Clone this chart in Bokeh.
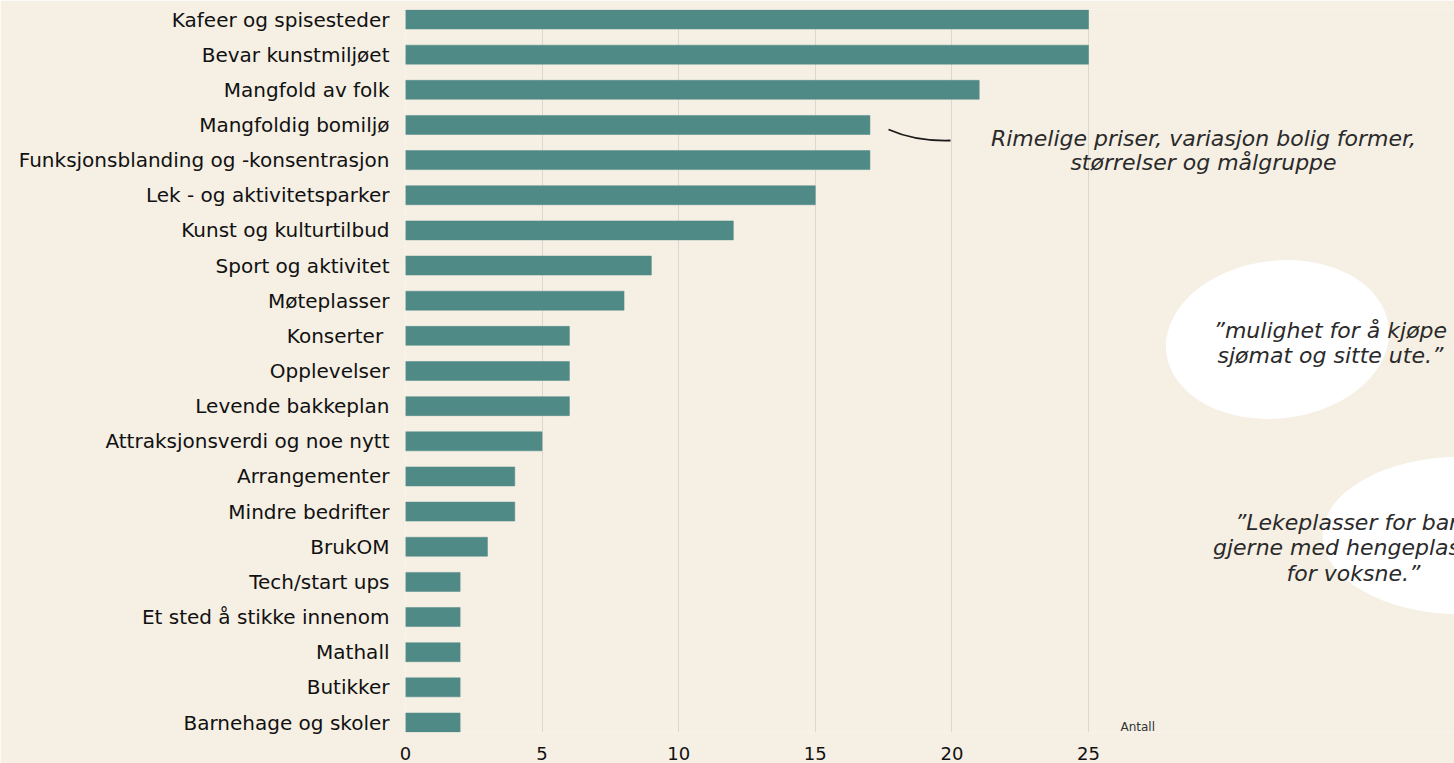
from bokeh.plotting import figure
from bokeh.models import Range1d, FixedTicker, Label, ColumnDataSource
from bokeh.embed import file_html
from bokeh.resources import INLINE
from bokeh.core.properties import value

categories = [
    "Kafeer og spisesteder", "Bevar kunstmiljøet", "Mangfold av folk",
    "Mangfoldig bomiljø", "Funksjonsblanding og -konsentrasjon",
    "Lek - og aktivitetsparker", "Kunst og kulturtilbud", "Sport og aktivitet",
    "Møteplasser", "Konserter ", "Opplevelser", "Levende bakkeplan",
    "Attraksjonsverdi og noe nytt", "Arrangementer", "Mindre bedrifter",
    "BrukOM", "Tech/start ups", "Et sted å stikke innenom", "Mathall",
    "Butikker", "Barnehage og skoler",
]
counts = [25, 25, 21, 17, 17, 15, 12, 9, 8, 6, 6, 6, 5, 4, 4, 3, 2, 2, 2, 2, 2]
x_ticks = [0, 5, 10, 15, 20, 25]
x_axis_title = "Antall"

quote_main = ["Rimelige priser, variasjon bolig former,", "størrelser og målgruppe"]
quote_two = ["”mulighet for å kjøpe", "sjømat og sitte ute.”"]
quote_three = ["”Lekeplasser for barn", "gjerne med hengeplasser", "for voksne.”"]

BG = "#F5EFE4"
BAR = "#508A86"
FONT = "DejaVu Sans"

W, H = 1454, 763
LEFT = 405
TOP = 9
BOTTOM_Y = 732
px_x = 27.32
px_y = 35.15
x_end = (W - LEFT) / px_x
pad = 10 / px_y


def dx(px):
    return (px - LEFT) / px_x


def dy(py):
    return (py - 19) / px_y


p = figure(width=W, height=H, output_backend="svg", toolbar_location=None,
           x_range=Range1d(0, x_end), y_range=Range1d(20 + pad, -pad),
           min_border_left=LEFT, min_border_right=0, min_border_top=TOP,
           min_border_bottom=H - BOTTOM_Y, background_fill_color=BG,
           border_fill_color=BG, outline_line_color=None)

# decorative white blobs
p.ellipse(x=[dx(1277)], y=[dy(339)], width=224, height=158,
          width_units="screen", height_units="screen", angle=0.12,
          fill_color="white", line_color=None)
p.ellipse(x=[dx(1462)], y=[dy(535)], width=280, height=158,
          width_units="screen", height_units="screen", angle=0.0,
          fill_color="white", line_color=None)

ys = list(range(len(categories)))
src = ColumnDataSource(dict(y=ys, v=counts, name=categories))
p.hbar(y="y", right="v", left=0, height=0.54, source=src,
       fill_color=BAR, line_color=BAR, line_width=0.5)

# axes
p.xaxis.ticker = FixedTicker(ticks=x_ticks)
p.xaxis.axis_line_color = None
p.xaxis.major_tick_line_color = None
p.xaxis.minor_tick_line_color = None
p.xaxis.major_label_text_font = FONT
p.xaxis.major_label_text_font_size = "18px"
p.xaxis.major_label_text_color = "#111111"
p.xaxis.major_label_standoff = 8

p.yaxis.ticker = FixedTicker(ticks=ys)
p.yaxis.major_label_overrides = {i: c for i, c in enumerate(categories)}
p.yaxis.axis_line_color = None
p.yaxis.major_tick_line_color = None
p.yaxis.minor_tick_line_color = None
p.yaxis.major_label_text_font = FONT
p.yaxis.major_label_text_font_size = "20px"
p.yaxis.major_label_text_color = "#111111"
p.yaxis.major_label_standoff = 10

p.xgrid.ticker = FixedTicker(ticks=x_ticks)
p.xgrid.grid_line_color = "#DDD8CE"
p.xgrid.grid_line_width = 1
p.ygrid.grid_line_color = None

p.add_layout(Label(x=dx(1120), y=dy(726), text=x_axis_title,
                   text_font=FONT, text_font_size="12px", text_color="#333333",
                   text_baseline="middle"))

# annotation curve
p.quadratic(x0=[dx(888)], y0=[dy(129)], x1=[dx(950)], y1=[dy(140)],
            cx=[dx(915)], cy=[dy(141)], line_color="#1a1a1a", line_width=1.8)

qstyle = dict(text_font=value(FONT), text_font_style="italic",
              text_font_size="22px", text_color="#2a2a2a", text_baseline="middle")
p.text(x=[dx(1203)] * 2, y=[dy(138), dy(162)],
       text=quote_main, text_align="center", **qstyle)
p.text(x=[dx(1213), dx(1217)], y=[dy(330), dy(355)],
       text=quote_two, text_align="left", **qstyle)
p.text(x=[dx(1353)] * 3, y=[dy(522), dy(547), dy(573)],
       text=quote_three, text_align="center", **qstyle)

open("out.html", "w").write(file_html(p, INLINE))
